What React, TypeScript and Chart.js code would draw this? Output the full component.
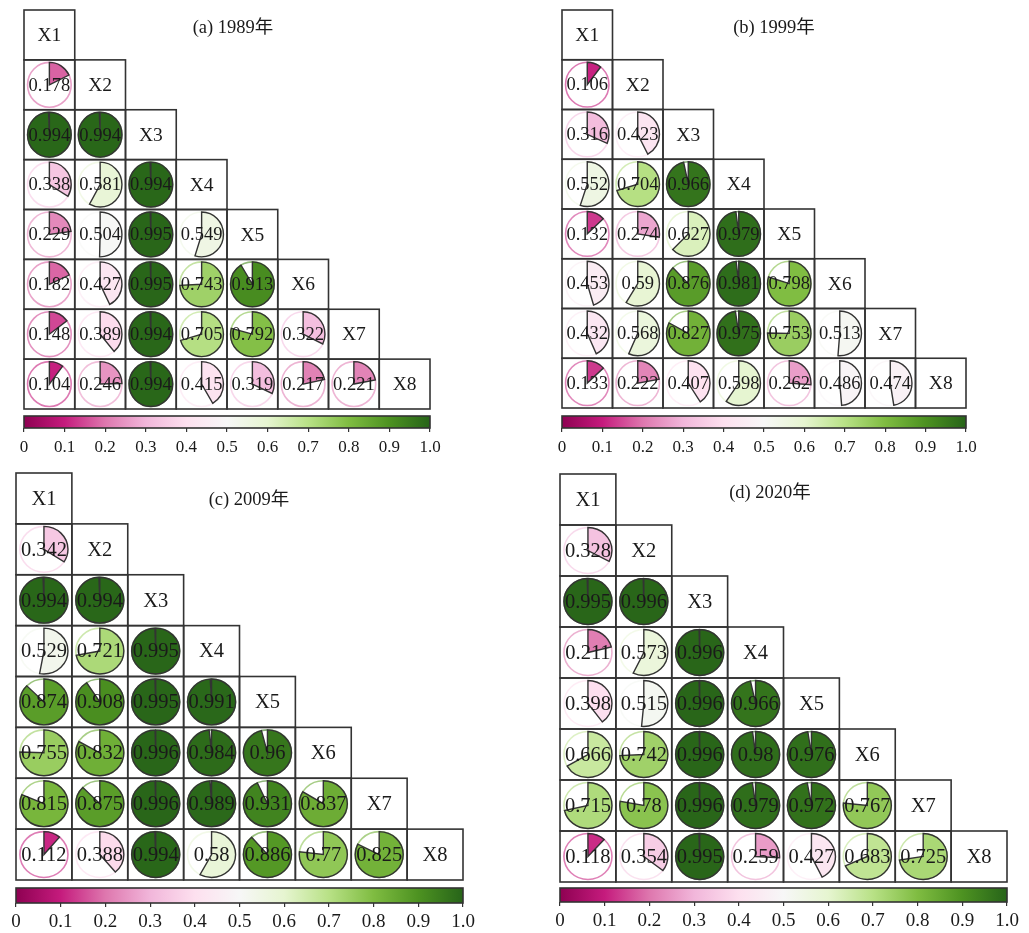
import React, { useEffect, useRef } from "react";
import { Chart, registerables } from "chart.js";

Chart.register(...registerables);

// Variable names on the diagonal
const VARIABLES = ["X1", "X2", "X3", "X4", "X5", "X6", "X7", "X8"];

// Colour bar ticks and their labels
const CB_TICKS = [0, 0.1, 0.2, 0.3, 0.4, 0.5, 0.6, 0.7, 0.8, 0.9, 1.0];
const CB_LABELS = ["0", "0.1", "0.2", "0.3", "0.4", "0.5", "0.6", "0.7", "0.8", "0.9", "1.0"];

// PiYG diverging palette, evenly spaced over 0..1
const PIYG = [
  "#8e0152", "#c51b7d", "#de77ae", "#f1b6da", "#fde0ef", "#f7f7f7",
  "#e6f5d0", "#b8e186", "#7fbc41", "#4d9221", "#276419",
];

// Lower-triangle values, row k holds the pairs of X(k+2) with X1..X(k+1)
const VALUES_1989 = [
  [0.178],
  [0.994, 0.994],
  [0.338, 0.581, 0.994],
  [0.229, 0.504, 0.995, 0.549],
  [0.182, 0.427, 0.995, 0.743, 0.913],
  [0.148, 0.389, 0.994, 0.705, 0.792, 0.322],
  [0.104, 0.246, 0.994, 0.415, 0.319, 0.217, 0.221],
];
const VALUES_1999 = [
  [0.106],
  [0.316, 0.423],
  [0.552, 0.704, 0.966],
  [0.132, 0.274, 0.627, 0.979],
  [0.453, 0.59, 0.876, 0.981, 0.798],
  [0.432, 0.568, 0.827, 0.975, 0.753, 0.513],
  [0.133, 0.222, 0.407, 0.598, 0.262, 0.486, 0.474],
];
const VALUES_2009 = [
  [0.342],
  [0.994, 0.994],
  [0.529, 0.721, 0.995],
  [0.874, 0.908, 0.995, 0.991],
  [0.755, 0.832, 0.996, 0.984, 0.96],
  [0.815, 0.875, 0.996, 0.989, 0.931, 0.837],
  [0.112, 0.388, 0.994, 0.58, 0.886, 0.77, 0.825],
];
const VALUES_2020 = [
  [0.328],
  [0.995, 0.996],
  [0.211, 0.573, 0.996],
  [0.398, 0.515, 0.996, 0.966],
  [0.666, 0.742, 0.996, 0.98, 0.976],
  [0.715, 0.78, 0.996, 0.979, 0.972, 0.767],
  [0.118, 0.354, 0.995, 0.259, 0.427, 0.683, 0.725],
];

const TITLES = ["(a) 1989年", "(b) 1999年", "(c) 2009年", "(d) 2020年"];

const FONT = '"Liberation Serif", "Times New Roman", "Noto Sans CJK SC", serif';

type Layout = {
  gx: number; gy: number; gw: number; gh: number;
  barTop: number; barBot: number;
  tx: number; ty: number;
  valFont: number; labFont: number; tickFont: number; titleFont: number;
  tickPad: number; axisH: number;
};

const LAYOUTS: Layout[] = [
  { gx: 24, gy: 10, gw: 406, gh: 399, barTop: 416, barBot: 428, tx: 233, ty: 28, valFont: 18.5, labFont: 19.5, tickFont: 17, titleFont: 18.5, tickPad: 5, axisH: 34 },
  { gx: 562, gy: 10, gw: 404, gh: 398, barTop: 416, barBot: 428, tx: 774, ty: 28, valFont: 18.5, labFont: 19.5, tickFont: 17, titleFont: 18.5, tickPad: 5, axisH: 34 },
  { gx: 16, gy: 473, gw: 447, gh: 407, barTop: 888, barBot: 903, tx: 249, ty: 500, valFont: 20.5, labFont: 20.5, tickFont: 19, titleFont: 18.5, tickPad: 4, axisH: 30 },
  { gx: 560, gy: 474, gw: 447, gh: 408, barTop: 888, barBot: 902, tx: 770, ty: 493, valFont: 20.5, labFont: 20.5, tickFont: 19, titleFont: 18.5, tickPad: 4, axisH: 31 },
];

const PANEL_DATA = [VALUES_1989, VALUES_1999, VALUES_2009, VALUES_2020];

const PAD_L = 24;
const PAD_R = 24;
const PAD_T = 6;

function hexToRgb(h: string): number[] {
  const n = parseInt(h.slice(1), 16);
  return [(n >> 16) & 255, (n >> 8) & 255, n & 255];
}
const PIYG_RGB = PIYG.map(hexToRgb);

function piyg(v: number, alpha = 1): string {
  const t = Math.min(1, Math.max(0, v)) * (PIYG_RGB.length - 1);
  const i = Math.min(PIYG_RGB.length - 2, Math.floor(t));
  const f = t - i;
  const a = PIYG_RGB[i];
  const b = PIYG_RGB[i + 1];
  const c = a.map((x, k) => Math.round(x + (b[k] - x) * f));
  return `rgba(${c[0]},${c[1]},${c[2]},${alpha})`;
}

// Draws the triangular grid, the pie glyphs, labels, colour bar and title
const pieGridPlugin = {
  id: "pieGrid",
  afterDatasetsDraw(chart: any) {
    const o = chart.options.plugins.pieGrid;
    const { ctx, chartArea } = chart;
    const xs = chart.scales.x;
    const ys = chart.scales.y;
    const cb = chart.scales.cb;
    const n = VARIABLES.length;
    ctx.save();

    // cell boxes
    ctx.strokeStyle = "#333";
    ctx.lineWidth = 1.6;
    for (let r = 0; r < n; r++) {
      for (let c = 0; c <= r; c++) {
        const x0 = xs.getPixelForValue(c);
        const x1 = xs.getPixelForValue(c + 1);
        const y0 = ys.getPixelForValue(r);
        const y1 = ys.getPixelForValue(r + 1);
        ctx.strokeRect(x0, y0, x1 - x0, y1 - y0);
      }
    }

    // pie glyphs
    const ds = chart.data.datasets[0];
    const meta = chart.getDatasetMeta(0);
    meta.data.forEach((el: any, i: number) => {
      const p = ds.data[i];
      const cx = el.x;
      const cy = el.y;
      const cw = xs.getPixelForValue(p.x + 0.5) - xs.getPixelForValue(p.x - 0.5);
      const chh = ys.getPixelForValue(p.y + 0.5) - ys.getPixelForValue(p.y - 0.5);
      const rx = 0.43 * Math.abs(cw);
      const ry = 0.45 * Math.abs(chh);
      const v = p.v;

      // faint outline ring in the value colour
      ctx.beginPath();
      ctx.ellipse(cx, cy, rx, ry, 0, 0, Math.PI * 2);
      ctx.strokeStyle = piyg(v, 0.6);
      ctx.lineWidth = 1.6;
      ctx.stroke();

      // wedge from 12 o'clock, clockwise
      const a0 = -Math.PI / 2;
      const a1 = a0 + v * Math.PI * 2;
      ctx.beginPath();
      ctx.moveTo(cx, cy);
      ctx.ellipse(cx, cy, rx, ry, 0, a0, a1);
      ctx.closePath();
      ctx.fillStyle = piyg(v);
      ctx.fill();
      ctx.strokeStyle = "#333";
      ctx.lineWidth = 1.4;
      ctx.stroke();

      // value text
      ctx.fillStyle = "#1a1a1a";
      ctx.font = `${o.valFont}px ${FONT}`;
      ctx.textAlign = "center";
      ctx.textBaseline = "middle";
      ctx.fillText(String(v), cx, cy + 1);
    });

    // diagonal variable names
    ctx.fillStyle = "#1a1a1a";
    ctx.font = `${o.labFont}px ${FONT}`;
    ctx.textAlign = "center";
    ctx.textBaseline = "middle";
    VARIABLES.forEach((name, k) => {
      ctx.fillText(name, xs.getPixelForValue(k + 0.5), ys.getPixelForValue(k + 0.5) + 1);
    });

    // colour bar
    const bx0 = cb.getPixelForValue(0);
    const bx1 = cb.getPixelForValue(1);
    const by0 = ys.getPixelForValue(o.barTopU);
    const by1 = ys.getPixelForValue(o.barBotU);
    const grad = ctx.createLinearGradient(bx0, 0, bx1, 0);
    PIYG.forEach((c, i) => grad.addColorStop(i / (PIYG.length - 1), c));
    ctx.fillStyle = grad;
    ctx.fillRect(bx0, by0, bx1 - bx0, by1 - by0);
    ctx.strokeStyle = "#333";
    ctx.lineWidth = 1.6;
    ctx.strokeRect(bx0, by0, bx1 - bx0, by1 - by0);

    // panel title
    ctx.fillStyle = "#1a1a1a";
    ctx.font = `${o.titleFont}px ${FONT}`;
    ctx.textAlign = "center";
    ctx.textBaseline = "middle";
    ctx.fillText(o.title, chartArea.left + o.titleDx, chartArea.top + o.titleDy);

    ctx.restore();
  },
};

function Panel({ index }: { index: number }) {
  const ref = useRef<HTMLCanvasElement>(null);
  const L = LAYOUTS[index];
  const width = L.gw + PAD_L + PAD_R;
  const height = L.barBot - L.gy + PAD_T + L.axisH;

  useEffect(() => {
    const canvas = ref.current;
    if (!canvas) return;
    const values = PANEL_DATA[index];
    const unit = L.gh / VARIABLES.length;
    const barTopU = (L.barTop - L.gy) / unit;
    const barBotU = (L.barBot - L.gy) / unit;

    const points: { x: number; y: number; v: number }[] = [];
    values.forEach((row, i) =>
      row.forEach((v, j) => points.push({ x: j + 0.5, y: i + 1.5, v }))
    );

    const chart = new Chart(canvas, {
      type: "scatter",
      data: {
        datasets: [
          {
            data: points,
            pointRadius: 0,
            pointHoverRadius: 0,
            xAxisID: "x",
            yAxisID: "y",
          },
        ],
      },
      options: {
        responsive: false,
        animation: false,
        devicePixelRatio: 1,
        events: [],
        layout: { padding: { left: PAD_L, right: PAD_R, top: PAD_T, bottom: 0 } },
        plugins: {
          legend: { display: false },
          tooltip: { enabled: false },
          title: { display: false },
          pieGrid: {
            valFont: L.valFont,
            labFont: L.labFont,
            titleFont: L.titleFont,
            title: TITLES[index],
            titleDx: L.tx - L.gx,
            titleDy: L.ty - L.gy,
            barTopU,
            barBotU,
          },
        } as any,
        scales: {
          x: { type: "linear", min: 0, max: VARIABLES.length, display: false },
          y: { type: "linear", min: 0, max: barBotU, reverse: true, display: false },
          cb: {
            type: "linear",
            axis: "x",
            position: "bottom",
            min: 0,
            max: 1,
            afterBuildTicks: (s: any) => {
              s.ticks = CB_TICKS.map((value) => ({ value }));
            },
            afterFit: (s: any) => {
              s.height = L.axisH;
            },
            ticks: {
              autoSkip: false,
              maxRotation: 0,
              padding: L.tickPad,
              color: "#1a1a1a",
              font: { family: FONT, size: L.tickFont },
              callback: (_v: any, i: number) => CB_LABELS[i],
            },
            grid: {
              drawOnChartArea: false,
              drawTicks: true,
              tickLength: 4,
              color: "#333",
              lineWidth: 1.2,
            },
            border: { display: false },
          },
        } as any,
      },
      plugins: [pieGridPlugin],
    });
    return () => chart.destroy();
  }, [index]);

  return (
    <canvas
      ref={ref}
      width={width}
      height={height}
      style={{
        position: "absolute",
        left: L.gx - PAD_L,
        top: L.gy - PAD_T,
        width,
        height,
      }}
    />
  );
}

export default function App() {
  return (
    <div
      style={{
        position: "absolute",
        left: 0,
        top: 0,
        width: 1029,
        height: 933,
        background: "#ffffff",
        overflow: "hidden",
      }}
    >
      {LAYOUTS.map((_, i) => (
        <Panel key={i} index={i} />
      ))}
    </div>
  );
}
